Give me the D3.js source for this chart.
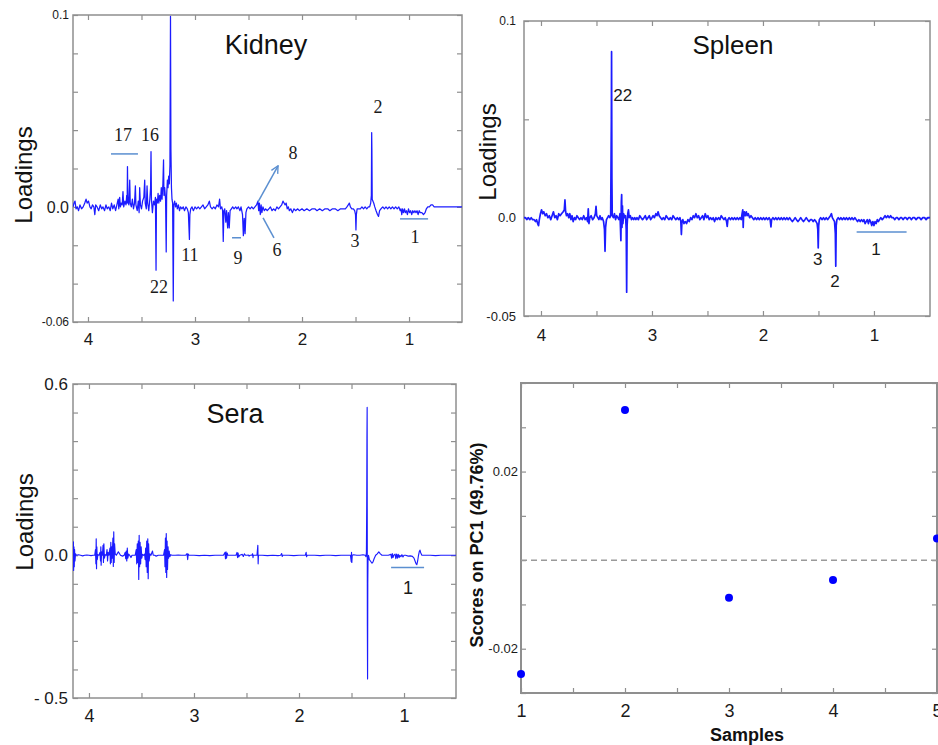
<!DOCTYPE html>
<html>
<head>
<meta charset="utf-8">
<script src="https://cdn.jsdelivr.net/npm/d3@7"></script>
<style>
  html, body { margin: 0; padding: 0; background: #fff; }
  svg { display: block; font-family: "Liberation Sans", Arial, sans-serif; }
</style>
</head>
<body>
<script>
/* ── Data: PCA loadings [ppm, loading] ────────────────────────────────────── */
const kidneySpectrum = [
  [4.140,0.000],[4.130,0.002],[4.121,0.003],[4.112,-0.001],[4.100,0.000],[4.088,-0.002],[4.075,0.001],
  [4.060,-0.001],[4.045,0.000],[4.030,0.002],[4.018,0.004],[4.008,0.002],[3.995,0.003],[3.982,0.000],
  [3.970,-0.001],[3.958,0.001],[3.945,0.000],[3.936,-0.004],[3.928,0.001],[3.915,0.000],[3.900,-0.002],
  [3.885,0.001],[3.872,-0.001],[3.860,0.000],[3.845,-0.002],[3.832,0.001],[3.820,-0.001],[3.805,0.000],
  [3.792,-0.002],[3.780,0.002],[3.768,-0.001],[3.755,0.001],[3.742,-0.002],[3.730,0.001],[3.718,0.004],
  [3.712,-0.001],[3.704,0.005],[3.697,0.000],[3.690,0.002],[3.680,0.001],[3.673,0.008],[3.666,0.000],
  [3.655,0.003],[3.645,0.001],[3.638,0.006],[3.634,0.002],[3.631,0.021],[3.627,0.003],[3.618,0.001],
  [3.610,0.014],[3.605,0.002],[3.595,0.000],[3.585,0.004],[3.575,-0.001],[3.565,0.002],[3.557,0.011],
  [3.552,0.001],[3.540,-0.002],[3.530,0.003],[3.522,-0.003],[3.517,0.010],[3.510,0.001],[3.500,-0.001],
  [3.490,0.003],[3.478,0.005],[3.470,0.014],[3.465,0.002],[3.455,-0.001],[3.448,0.011],[3.442,0.002],
  [3.432,-0.002],[3.422,0.004],[3.415,0.010],[3.411,0.0288],[3.407,0.004],[3.398,-0.003],[3.388,0.003],
  [3.378,0.001],[3.370,0.005],[3.364,-0.033],[3.360,0.004],[3.352,0.002],[3.345,0.007],[3.338,0.002],
  [3.330,0.006],[3.322,0.003],[3.315,0.010],[3.308,0.004],[3.300,0.012],[3.294,0.0245],[3.290,0.006],
  [3.283,0.010],[3.275,0.004],[3.269,-0.0235],[3.265,0.006],[3.258,0.014],[3.252,0.010],[3.246,0.016],
  [3.240,0.012],[3.234,0.022],[3.229,0.0993],[3.225,0.030],[3.220,0.010],[3.215,0.004],[3.209,0.002],
  [3.203,-0.049],[3.198,0.001],[3.190,0.003],[3.182,0.000],[3.174,0.002],[3.165,-0.001],[3.155,0.001],
  [3.145,-0.002],[3.135,0.000],[3.122,-0.001],[3.110,0.000],[3.098,-0.002],[3.085,0.000],[3.072,-0.001],
  [3.062,-0.003],[3.052,-0.017],[3.048,-0.004],[3.040,-0.001],[3.028,0.000],[3.015,-0.002],[3.000,0.000],
  [2.985,-0.001],[2.970,0.000],[2.955,-0.001],[2.940,0.000],[2.925,0.001],[2.910,-0.001],[2.895,0.000],
  [2.880,0.001],[2.866,0.003],[2.855,0.000],[2.840,-0.001],[2.825,0.000],[2.810,-0.001],[2.795,0.001],
  [2.780,0.000],[2.770,0.004],[2.762,-0.001],[2.750,0.000],[2.742,-0.002],[2.736,-0.018],[2.730,-0.002],
  [2.722,-0.001],[2.712,-0.008],[2.705,-0.002],[2.695,-0.011],[2.688,-0.003],[2.680,-0.011],[2.672,-0.002],
  [2.660,-0.001],[2.648,0.000],[2.635,-0.001],[2.620,0.000],[2.608,-0.001],[2.595,0.000],[2.580,-0.002],
  [2.570,0.000],[2.556,-0.004],[2.548,-0.015],[2.540,-0.006],[2.532,-0.014],[2.524,-0.003],[2.515,-0.001],
  [2.500,0.000],[2.485,-0.001],[2.470,0.000],[2.455,-0.001],[2.440,0.000],[2.425,0.001],[2.412,0.003],
  [2.405,-0.002],[2.398,0.002],[2.390,-0.004],[2.382,0.001],[2.375,-0.003],[2.365,0.000],[2.352,-0.002],
  [2.340,-0.001],[2.325,-0.002],[2.310,-0.001],[2.295,0.000],[2.280,-0.002],[2.265,-0.001],[2.250,-0.002],
  [2.235,0.000],[2.220,-0.001],[2.205,0.000],[2.190,0.001],[2.178,0.003],[2.168,0.002],[2.158,0.001],
  [2.148,0.002],[2.138,-0.001],[2.128,0.000],[2.118,-0.002],[2.105,-0.001],[2.090,-0.003],[2.075,-0.001],
  [2.060,-0.002],[2.040,-0.001],[2.025,-0.002],[2.000,-0.001],[1.980,-0.002],[1.955,-0.001],[1.930,-0.002],
  [1.905,-0.001],[1.880,-0.001],[1.860,-0.002],[1.835,-0.001],[1.810,-0.002],[1.785,-0.001],[1.760,-0.001],
  [1.740,-0.002],[1.715,-0.001],[1.690,-0.001],[1.665,-0.002],[1.640,-0.001],[1.615,-0.001],[1.595,-0.001],
  [1.580,0.000],[1.568,0.001],[1.558,0.002],
  [1.548,0.000],[1.535,-0.001],[1.520,-0.001],[1.508,-0.002],[1.500,-0.004],[1.496,-0.012],[1.492,-0.004],
  [1.485,-0.001],[1.470,-0.001],[1.455,-0.001],[1.440,0.000],[1.425,-0.001],[1.410,0.000],[1.395,-0.001],
  [1.380,0.000],[1.368,0.000],[1.358,0.002],[1.352,0.006],[1.349,0.0387],[1.347,0.030],[1.344,0.004],
  [1.338,0.003],[1.330,0.002],[1.320,0.000],[1.308,-0.002],[1.295,-0.004],[1.285,-0.005],[1.275,-0.002],
  [1.262,-0.001],[1.245,0.000],[1.230,-0.001],[1.215,0.000],[1.200,-0.001],[1.185,0.000],[1.170,-0.001],
  [1.155,0.000],[1.140,-0.001],[1.125,0.000],[1.110,-0.001],[1.095,0.000],[1.082,-0.002],[1.075,-0.001],
  [1.068,-0.004],[1.060,-0.001],[1.052,-0.003],[1.042,-0.001],[1.035,-0.003],[1.025,-0.002],[1.015,-0.004],
  [1.005,-0.001],[0.995,-0.003],[0.985,-0.002],[0.975,-0.004],[0.965,-0.002],[0.955,-0.003],[0.945,-0.002],
  [0.935,-0.003],[0.925,-0.002],[0.915,-0.004],[0.905,-0.002],[0.895,-0.003],[0.880,-0.003],[0.865,-0.004],
  [0.850,-0.003],[0.838,-0.001],[0.825,0.000],[0.810,0.000],[0.795,0.001],[0.780,0.001],[0.765,0.000],
  [0.740,0.000],[0.700,0.000],[0.650,0.000],[0.600,0.000],[0.550,0.000],[0.505,0.000]
];

const spleenSpectrum = [
  [4.153,0.000],[4.140,0.000],[4.128,-0.001],[4.115,0.000],[4.100,-0.001],[4.088,0.000],[4.075,-0.001],
  [4.062,-0.001],[4.050,-0.002],[4.040,-0.001],[4.030,-0.003],[4.022,-0.004],[4.015,-0.001],[4.005,0.002],
  [3.995,0.004],[3.985,0.002],[3.975,0.003],[3.962,0.001],[3.950,0.002],[3.938,0.000],[3.925,0.001],
  [3.912,-0.001],[3.900,0.001],[3.888,0.003],[3.876,0.000],[3.864,0.001],[3.852,-0.001],[3.840,0.002],
  [3.828,0.001],[3.815,0.002],[3.800,0.003],[3.790,0.004],[3.784,0.009],[3.778,0.003],[3.770,0.001],
  [3.760,0.002],[3.750,0.000],[3.740,0.002],[3.730,-0.001],[3.720,0.001],[3.710,-0.002],[3.698,0.000],
  [3.688,-0.001],[3.676,0.001],[3.664,0.000],[3.652,-0.001],[3.640,0.000],[3.628,-0.001],[3.615,0.001],
  [3.602,-0.001],[3.590,0.000],[3.580,-0.002],[3.574,0.0045],[3.568,-0.003],[3.560,0.000],[3.548,0.001],
  [3.535,-0.001],[3.522,0.000],[3.510,0.002],[3.504,0.0058],[3.498,0.001],[3.488,0.000],[3.478,-0.001],
  [3.468,0.001],[3.458,-0.001],[3.448,0.000],[3.436,-0.002],[3.428,-0.006],[3.423,-0.0171],[3.418,-0.005],
  [3.410,-0.001],[3.400,0.000],[3.390,0.001],[3.380,0.000],[3.372,0.001],[3.366,0.050],[3.364,0.0844],
  [3.361,0.020],[3.358,0.001],[3.348,0.000],[3.338,0.002],[3.328,-0.001],[3.318,0.001],[3.308,0.000],
  [3.298,-0.001],[3.288,0.002],[3.280,-0.0117],[3.276,0.008],[3.273,0.0117],[3.270,-0.005],[3.266,0.006],
  [3.262,-0.003],[3.255,0.002],[3.245,0.000],[3.238,0.001],[3.232,-0.006],[3.228,-0.0379],[3.224,-0.004],
  [3.218,0.002],[3.212,0.004],[3.205,0.000],[3.195,0.001],[3.185,-0.001],[3.175,0.000],[3.165,-0.001],
  [3.155,0.000],[3.145,-0.001],[3.135,0.000],[3.122,-0.001],[3.110,0.001],[3.098,0.000],[3.085,-0.001],
  [3.072,0.000],[3.060,0.001],[3.048,-0.001],[3.036,0.000],[3.024,0.001],[3.012,-0.001],[3.000,0.000],
  [2.990,0.001],[2.978,0.000],[2.965,0.002],[2.955,0.001],[2.945,0.003],[2.935,0.001],[2.922,0.000],
  [2.910,-0.001],[2.898,0.000],[2.885,-0.001],[2.872,0.001],[2.860,0.000],[2.848,-0.001],[2.835,0.000],
  [2.822,-0.001],[2.810,0.001],[2.798,0.000],[2.785,-0.001],[2.772,0.000],[2.760,-0.001],[2.748,0.000],
  [2.740,-0.002],[2.735,-0.0086],[2.730,-0.002],[2.722,-0.001],[2.712,-0.003],[2.700,-0.002],[2.688,-0.003],
  [2.676,-0.001],[2.664,-0.002],[2.652,0.000],[2.640,-0.001],[2.628,0.001],[2.616,0.000],[2.604,0.002],
  [2.592,0.000],[2.580,0.001],[2.568,-0.001],[2.556,0.000],[2.544,0.001],[2.532,-0.001],[2.520,0.002],
  [2.508,0.000],[2.496,0.001],[2.484,-0.001],[2.472,0.000],[2.460,-0.001],[2.448,0.000],[2.436,-0.002],
  [2.424,0.000],[2.412,-0.001],[2.400,0.000],[2.388,-0.001],[2.376,0.001],[2.364,0.000],[2.352,-0.001],
  [2.340,0.000],[2.328,-0.002],[2.322,-0.0044],[2.316,-0.001],[2.305,0.000],[2.292,-0.001],[2.280,0.000],
  [2.268,-0.001],[2.256,0.000],[2.244,-0.001],[2.232,0.000],[2.220,-0.001],[2.208,0.000],[2.196,-0.001],
  [2.188,0.002],[2.182,0.004],[2.178,-0.005],[2.174,0.002],[2.168,0.003],[2.160,0.001],[2.150,0.003],
  [2.142,0.001],[2.132,0.002],[2.120,0.000],[2.108,0.001],[2.095,0.000],[2.082,-0.001],[2.070,0.000],
  [2.058,-0.001],[2.045,0.000],[2.032,-0.001],[2.020,0.000],[2.008,-0.001],[1.995,0.000],[1.982,-0.001],
  [1.970,0.000],[1.958,-0.001],[1.945,0.000],[1.935,-0.001],[1.928,-0.0047],[1.922,-0.001],[1.910,0.000],
  [1.898,-0.001],[1.885,0.000],[1.872,-0.001],[1.860,0.000],[1.848,-0.001],[1.835,0.000],[1.822,-0.001],
  [1.810,0.000],[1.798,-0.001],[1.785,0.000],[1.772,-0.001],[1.760,0.000],[1.748,-0.001],[1.735,-0.002],
  [1.722,-0.001],[1.710,0.000],[1.698,-0.001],[1.685,-0.002],[1.672,-0.001],[1.660,0.000],[1.648,-0.001],
  [1.635,-0.002],[1.622,-0.001],[1.610,0.000],[1.598,-0.001],[1.585,-0.002],[1.572,-0.001],[1.560,-0.001],
  [1.548,-0.002],[1.535,-0.001],[1.522,-0.002],[1.512,-0.003],[1.506,-0.006],[1.502,-0.0154],[1.498,-0.004],
  [1.492,-0.001],[1.480,0.000],[1.468,-0.001],[1.455,0.000],[1.442,-0.001],[1.430,0.000],[1.418,-0.001],
  [1.405,0.000],[1.392,0.001],[1.383,0.002],[1.375,0.000],[1.365,-0.001],[1.355,-0.002],[1.348,-0.008],
  [1.344,-0.0247],[1.340,-0.004],[1.334,-0.001],[1.322,0.000],[1.310,-0.001],[1.298,0.000],[1.285,-0.001],
  [1.272,0.000],[1.260,-0.001],[1.248,0.000],[1.235,-0.001],[1.222,0.000],[1.210,-0.001],[1.198,0.000],
  [1.185,-0.001],[1.172,0.000],[1.160,-0.001],[1.148,-0.002],[1.136,-0.001],[1.124,-0.002],[1.112,-0.001],
  [1.100,-0.002],[1.090,-0.001],[1.080,-0.003],[1.070,-0.002],[1.060,-0.001],[1.050,-0.003],[1.040,-0.001],
  [1.030,-0.002],[1.020,-0.004],[1.010,-0.002],[1.000,-0.004],[0.990,-0.002],[0.980,-0.003],[0.970,-0.001],
  [0.960,-0.002],[0.950,-0.001],[0.938,0.000],[0.925,-0.001],[0.912,0.000],[0.900,0.001],[0.888,0.000],
  [0.875,0.001],[0.862,0.000],[0.850,0.001],[0.838,0.000],[0.825,0.000],[0.812,-0.001],[0.800,0.000],
  [0.788,0.000],[0.775,-0.001],[0.762,0.000],[0.750,0.000],[0.738,-0.001],[0.725,0.000],[0.712,0.000],
  [0.700,-0.001],[0.688,0.000],[0.675,0.000],[0.662,-0.001],[0.650,0.000],[0.635,0.000],[0.620,-0.001],
  [0.605,0.000],[0.590,0.000],[0.575,-0.001],[0.560,0.000],[0.545,0.000],[0.530,-0.001],[0.515,0.000],
  [0.495,0.000]
];

const seraSpectrum = [
  [4.152,0.000],[4.148,0.047],[4.146,-0.053],[4.143,0.030],[4.140,-0.040],[4.137,0.020],[4.133,-0.020],
  [4.128,0.005],[4.120,0.000],[4.100,0.002],[4.080,0.000],[4.060,-0.002],[4.040,0.000],[4.020,0.001],
  [4.000,0.000],[3.980,-0.001],[3.960,0.000],[3.945,0.000],[3.938,0.020],[3.934,-0.030],[3.931,0.058],
  [3.928,-0.047],[3.925,0.030],[3.921,-0.015],[3.915,0.002],[3.905,0.000],[3.895,0.010],[3.890,-0.020],
  [3.887,0.030],[3.884,-0.035],[3.880,0.012],[3.872,0.000],[3.866,0.035],[3.862,-0.025],[3.858,0.040],
  [3.853,-0.010],[3.845,0.002],[3.835,0.000],[3.828,0.020],[3.823,-0.020],[3.818,0.010],[3.810,0.000],
  [3.800,0.025],[3.796,-0.030],[3.792,0.045],[3.788,-0.025],[3.783,0.030],[3.779,-0.010],[3.772,0.060],
  [3.768,-0.039],[3.764,0.082],[3.760,-0.025],[3.756,0.040],[3.750,0.005],[3.740,0.000],[3.720,0.012],
  [3.710,0.006],[3.700,0.000],[3.680,-0.003],[3.665,0.000],[3.655,0.010],[3.650,-0.012],[3.645,0.015],
  [3.640,-0.020],[3.635,0.025],[3.630,-0.010],[3.622,0.004],[3.612,0.000],[3.600,-0.008],[3.590,0.000],
  [3.560,0.000],[3.550,0.020],[3.545,-0.030],[3.540,0.040],[3.535,-0.025],[3.530,0.050],[3.526,-0.085],
  [3.522,0.070],[3.518,-0.040],[3.513,0.045],[3.508,-0.030],[3.503,0.030],[3.497,-0.010],[3.490,0.003],
  [3.480,0.000],[3.470,0.004],[3.465,-0.015],[3.460,0.025],[3.455,-0.040],[3.450,0.050],[3.445,-0.060],
  [3.440,0.058],[3.436,-0.082],[3.432,0.040],[3.427,-0.020],[3.420,0.005],[3.410,0.000],[3.395,0.015],
  [3.388,0.000],[3.375,0.000],[3.360,-0.003],[3.340,0.000],[3.290,0.000],[3.280,0.020],[3.276,-0.040],
  [3.272,0.060],[3.268,-0.060],[3.264,0.076],[3.260,-0.078],[3.256,0.050],[3.252,-0.050],[3.247,0.030],
  [3.242,-0.010],[3.236,0.015],[3.230,-0.005],[3.222,0.002],[3.210,0.000],[3.180,0.000],[3.150,0.001],
  [3.120,0.000],[3.080,0.000],[3.066,0.006],[3.060,-0.015],[3.055,0.004],[3.048,0.000],[3.000,0.000],
  [2.950,-0.001],[2.900,0.000],[2.850,-0.001],[2.800,0.000],[2.720,0.000],[2.705,0.010],[2.700,-0.012],
  [2.695,0.012],[2.690,-0.010],[2.684,0.008],[2.678,0.000],[2.640,0.000],[2.600,0.000],[2.590,0.010],
  [2.585,-0.008],[2.580,0.008],[2.574,-0.006],[2.565,0.000],[2.540,0.003],[2.530,-0.004],[2.520,0.005],
  [2.510,0.000],[2.495,0.000],[2.482,0.001],[2.475,-0.003],[2.465,0.000],[2.450,0.000],[2.442,0.005],
  [2.438,-0.008],[2.435,0.000],[2.400,0.000],[2.392,0.035],[2.389,-0.030],[2.386,0.000],[2.350,0.000],
  [2.300,-0.001],[2.250,0.000],[2.200,-0.001],[2.175,0.000],[2.165,0.006],[2.160,-0.004],[2.155,0.000],
  [2.100,0.000],[2.050,-0.001],[2.000,0.000],[1.940,0.000],[1.932,0.010],[1.928,-0.005],[1.922,0.000],
  [1.850,0.000],[1.800,-0.001],[1.750,0.000],[1.700,0.000],[1.650,-0.001],[1.600,0.000],[1.550,0.000],
  [1.510,0.000],[1.503,-0.022],[1.500,0.010],[1.497,-0.025],[1.493,0.000],[1.480,0.002],[1.450,0.000],
  [1.420,0.000],[1.390,0.002],[1.370,0.000],[1.362,-0.005],[1.358,0.010],[1.355,0.180],[1.353,0.410],
  [1.351,0.518],[1.350,0.100],[1.349,-0.250],[1.347,-0.433],[1.345,-0.100],[1.343,-0.020],[1.338,0.000],
  [1.330,-0.015],[1.320,-0.020],[1.305,-0.028],[1.295,-0.023],[1.285,-0.012],[1.270,0.000],[1.255,0.005],
  [1.240,0.012],[1.225,0.005],[1.210,0.000],[1.180,0.000],[1.150,0.000],[1.125,0.003],[1.118,-0.010],
  [1.112,0.006],[1.105,-0.008],[1.098,0.000],[1.085,0.004],[1.078,-0.012],[1.070,0.004],[1.062,-0.010],
  [1.055,0.003],[1.046,-0.008],[1.040,0.000],[1.030,-0.005],[1.020,0.002],[1.010,-0.006],[1.000,0.000],
  [0.985,0.000],[0.960,-0.003],[0.940,-0.002],[0.920,-0.004],[0.905,-0.010],[0.895,-0.020],[0.885,-0.030],
  [0.878,-0.033],[0.870,-0.020],[0.862,0.000],[0.855,0.012],[0.848,0.018],[0.840,0.008],[0.830,0.000],
  [0.800,0.000],[0.750,0.000],[0.700,-0.001],[0.650,0.000],[0.600,0.000],[0.505,0.000]
];

/* PC1 scores per sample */
const sampleIds    = [1, 2, 3, 4, 5];
const sampleScores = [-0.0257, 0.0339, -0.0085, -0.0045, 0.0049];

/* ── Ticks and tick labels ────────────────────────────────────────────────── */
const ppmTicks      = [4, 3.5, 3, 2.5, 2, 1.5, 1];
const ppmLabels     = [[4, '4'], [3, '3'], [2, '2'], [1, '1']];
const kidneyYTicks  = [-0.06, -0.04, -0.02, 0, 0.02, 0.04, 0.06, 0.08, 0.1];
const kidneyYLabels = [[0.1, '0.1'], [0, '0.0'], [-0.06, '-0.06']];
const spleenYTicks  = [-0.05, 0, 0.05, 0.1];
const spleenYLabels = [[0.1, '0.1'], [0, '0.0'], [-0.05, '-0.05']];
const seraYTicks    = [-0.5, -0.4, -0.3, -0.2, -0.1, 0, 0.1, 0.2, 0.3, 0.4, 0.5, 0.6];
const seraYLabels   = [[0.6, '0.6'], [0, '0.0'], [-0.5, '- 0.5']];
const scoreXTicks   = [1, 1.5, 2, 2.5, 3, 3.5, 4, 4.5, 5];
const scoreXLabels  = [[1, '1'], [2, '2'], [3, '3'], [4, '4'], [5, '5']];
const scoreYTicks   = [-0.03, -0.02, -0.01, 0, 0.01, 0.02, 0.03, 0.04];
const scoreYLabels  = [[0.02, '0.02'], [-0.02, '-0.02']];

/* ── Peak annotations [text, ppm, loading] and marker lines ───────────────── */
const kidneyNotes = [
  ['17', 3.673, 0.0375], ['16', 3.420, 0.0375], ['22', 3.336, -0.0417], ['11', 3.047, -0.025],
  ['9', 2.598, -0.0266], ['6', 2.233, -0.0224], ['8', 2.084, 0.0281], ['3', 1.505, -0.0177],
  ['2', 1.290, 0.052], ['1', 0.944, -0.0156]
];
const kidneyMarks = [
  [3.785, 0.0276, 3.533, 0.0276], [2.654, -0.0161, 2.570, -0.0161],
  [2.364, -0.0057, 2.262, -0.0161], [1.084, -0.00625, 0.822, -0.00625]
];
const kidneyArrows = [[2.411, 0.0026, 2.224, 0.0214]];
const spleenNotes = [['22', 3.264, 0.0624], ['3', 1.507, -0.021], ['2', 1.351, -0.0323], ['1', 0.982, -0.0159]];
const spleenMarks = [[1.156, -0.00726, 0.706, -0.00726]];
const seraNotes   = [['1', 0.962, -0.112]];
const seraMarks   = [[1.123, -0.043, 0.809, -0.043]];

/* ── Setup ────────────────────────────────────────────────────────────────── */
const W = 938, H = 745;
const FRAME = '#8f8f8f';
const LINE_BLUE = '#1c1cff';
const NOTE_BLUE = '#5b8fd0';

const svg = d3.select('body').append('svg').attr('width', W).attr('height', H);

const defs = svg.append('defs');
defs.append('marker')
  .attr('id', 'arrow').attr('viewBox', '0 0 10 10')
  .attr('refX', 9).attr('refY', 5)
  .attr('markerWidth', 9).attr('markerHeight', 9)
  .attr('markerUnits', 'userSpaceOnUse')
  .attr('orient', 'auto')
  .append('path').attr('d', 'M1,1 L9,5 L1,9')
  .attr('fill', 'none').attr('stroke', NOTE_BLUE).attr('stroke-width', 1.5);

function labelFor(list) {
  return d => {
    const hit = list.find(l => Math.abs(l[0] - d) < 1e-9);
    return hit ? hit[1] : '';
  };
}

/* Framed panel with inward ticks on all four sides */
function panel(c) {
  const x = d3.scaleLinear().domain(c.xDomain).range([c.left, c.right]);
  const y = d3.scaleLinear().domain(c.yDomain).range([c.bottom, c.top]);
  const g = svg.append('g');

  const styleAxis = sel => {
    sel.select('.domain').remove();
    sel.selectAll('.tick line').attr('stroke', FRAME).attr('stroke-width', 1.2);
    sel.selectAll('.tick text').attr('fill', '#1a1a1a').style('font-family', '"Liberation Sans", Arial, sans-serif');
  };

  g.append('g').attr('transform', `translate(0,${c.bottom})`)
    .call(d3.axisBottom(x).tickValues(c.xTicks).tickSize(-5).tickSizeOuter(0)
      .tickPadding(c.xPad).tickFormat(labelFor(c.xLabels)))
    .call(styleAxis)
    .selectAll('.tick text').style('font-size', c.xFont + 'px');

  g.append('g').attr('transform', `translate(0,${c.top})`)
    .call(d3.axisTop(x).tickValues(c.xTicks).tickSize(-5).tickSizeOuter(0).tickFormat(''))
    .call(styleAxis);

  g.append('g').attr('transform', `translate(${c.left},0)`)
    .call(d3.axisLeft(y).tickValues(c.yTicks).tickSize(-5).tickSizeOuter(0)
      .tickPadding(c.yPad).tickFormat(labelFor(c.yLabels)))
    .call(styleAxis)
    .selectAll('.tick text').style('font-size', d => (c.yFont(d)) + 'px');

  g.append('g').attr('transform', `translate(${c.right},0)`)
    .call(d3.axisRight(y).tickValues(c.yTicks).tickSize(-5).tickSizeOuter(0).tickFormat(''))
    .call(styleAxis);

  g.append('rect')
    .attr('x', c.left).attr('y', c.top)
    .attr('width', c.right - c.left).attr('height', c.bottom - c.top)
    .attr('fill', 'none').attr('stroke', FRAME).attr('stroke-width', c.frameWidth || 1.5);

  const clipId = 'clip-' + c.id;
  defs.append('clipPath').attr('id', clipId)
    .append('rect').attr('x', c.left).attr('y', c.top)
    .attr('width', c.right - c.left).attr('height', c.bottom - c.top);

  return { g, x, y, clipId };
}

function spectrumPanel(c) {
  const p = panel(c);
  const { g, x, y } = p;

  g.append('path')
    .datum(c.data)
    .attr('clip-path', `url(#${p.clipId})`)
    .attr('d', d3.line().x(d => x(d[0])).y(d => y(d[1])))
    .attr('fill', 'none')
    .attr('stroke', LINE_BLUE)
    .attr('stroke-width', c.lineWidth)
    .attr('stroke-linejoin', 'round');

  g.selectAll('.mark').data(c.marks || []).enter().append('line')
    .attr('x1', d => x(d[0])).attr('y1', d => y(d[1]))
    .attr('x2', d => x(d[2])).attr('y2', d => y(d[3]))
    .attr('stroke', NOTE_BLUE).attr('stroke-width', 1.5);

  g.selectAll('.arrow').data(c.arrows || []).enter().append('line')
    .attr('x1', d => x(d[0])).attr('y1', d => y(d[1]))
    .attr('x2', d => x(d[2])).attr('y2', d => y(d[3]))
    .attr('stroke', NOTE_BLUE).attr('stroke-width', 1.5)
    .attr('marker-end', 'url(#arrow)');

  g.selectAll('.note').data(c.notes || []).enter().append('text')
    .attr('x', d => x(d[1])).attr('y', d => y(d[2]))
    .attr('dy', '0.35em')
    .attr('text-anchor', 'middle')
    .style('font-family', c.noteFont)
    .style('font-size', c.noteSize + 'px')
    .attr('fill', '#1a1a1a')
    .text(d => d[0]);

  svg.append('text')
    .attr('x', c.titleX).attr('y', c.titleY)
    .attr('text-anchor', 'middle')
    .style('font-size', c.titleSize + 'px')
    .attr('fill', '#111')
    .text(c.title);

  svg.append('text')
    .attr('transform', `translate(${c.ylabX},${c.ylabY}) rotate(-90)`)
    .attr('text-anchor', 'middle')
    .style('font-size', '24px')
    .attr('fill', '#111')
    .text('Loadings');
}

/* ── Kidney ───────────────────────────────────────────────────────────────── */
spectrumPanel({
  id: 'kidney', data: kidneySpectrum,
  left: 73, top: 15, right: 462, bottom: 322,
  xDomain: [4.14, 0.505], yDomain: [-0.06, 0.1],
  xTicks: ppmTicks, xLabels: ppmLabels, xPad: 11, xFont: 17,
  yTicks: kidneyYTicks, yLabels: kidneyYLabels, yPad: 4,
  yFont: d => (d === 0 ? 16 : 12),
  lineWidth: 1.25,
  notes: kidneyNotes, marks: kidneyMarks, arrows: kidneyArrows,
  noteFont: '"Liberation Serif", "Times New Roman", serif', noteSize: 18,
  title: 'Kidney', titleX: 266, titleY: 54, titleSize: 27,
  ylabX: 32, ylabY: 175
});

/* ── Spleen ───────────────────────────────────────────────────────────────── */
spectrumPanel({
  id: 'spleen', data: spleenSpectrum,
  left: 524, top: 21, right: 930, bottom: 316,
  xDomain: [4.153, 0.495], yDomain: [-0.05, 0.1],
  xTicks: ppmTicks, xLabels: ppmLabels, xPad: 13, xFont: 17,
  yTicks: spleenYTicks, yLabels: spleenYLabels, yPad: 8,
  yFont: d => (d === 0.1 ? 12 : 13),
  lineWidth: 1.7,
  notes: spleenNotes, marks: spleenMarks,
  noteFont: '"Liberation Sans", Arial, sans-serif', noteSize: 17,
  title: 'Spleen', titleX: 733, titleY: 54, titleSize: 26,
  ylabX: 496, ylabY: 152
});

/* ── Sera ─────────────────────────────────────────────────────────────────── */
spectrumPanel({
  id: 'sera', data: seraSpectrum,
  left: 73, top: 384, right: 456, bottom: 698,
  xDomain: [4.152, 0.505], yDomain: [-0.5, 0.6],
  xTicks: ppmTicks, xLabels: ppmLabels, xPad: 11, xFont: 18,
  yTicks: seraYTicks, yLabels: seraYLabels, yPad: 5,
  yFont: () => 17,
  lineWidth: 1.15,
  notes: seraNotes, marks: seraMarks,
  noteFont: '"Liberation Sans", Arial, sans-serif', noteSize: 18,
  title: 'Sera', titleX: 235, titleY: 423, titleSize: 27,
  ylabX: 33, ylabY: 522
});

/* ── Scores on PC1 ────────────────────────────────────────────────────────── */
(function () {
  const c = {
    id: 'scores', left: 521, top: 383, right: 937, bottom: 693,
    xDomain: [1, 5], yDomain: [-0.03, 0.04],
    xTicks: scoreXTicks, xLabels: scoreXLabels, xPad: 11, xFont: 18,
    yTicks: scoreYTicks, yLabels: scoreYLabels, yPad: 3,
    yFont: () => 13, frameWidth: 2
  };
  const { g, x, y } = panel(c);

  g.append('line')
    .attr('x1', c.left).attr('x2', c.right)
    .attr('y1', y(0)).attr('y2', y(0))
    .attr('stroke', '#9a9a9a').attr('stroke-width', 1.5)
    .attr('stroke-dasharray', '6,4');

  g.selectAll('.dot').data(sampleIds).enter().append('circle')
    .attr('cx', (d) => x(d))
    .attr('cy', (d, i) => y(sampleScores[i]))
    .attr('r', 4)
    .attr('fill', '#0000ff');

  svg.append('text')
    .attr('transform', 'translate(483,545) rotate(-90)')
    .attr('text-anchor', 'middle')
    .style('font-size', '18px').style('font-weight', 'bold')
    .attr('fill', '#111')
    .text('Scores on PC1 (49.76%)');

  svg.append('text')
    .attr('x', 747).attr('y', 741)
    .attr('text-anchor', 'middle')
    .style('font-size', '18px').style('font-weight', 'bold')
    .attr('fill', '#111')
    .text('Samples');
})();
</script>
</body>
</html>
